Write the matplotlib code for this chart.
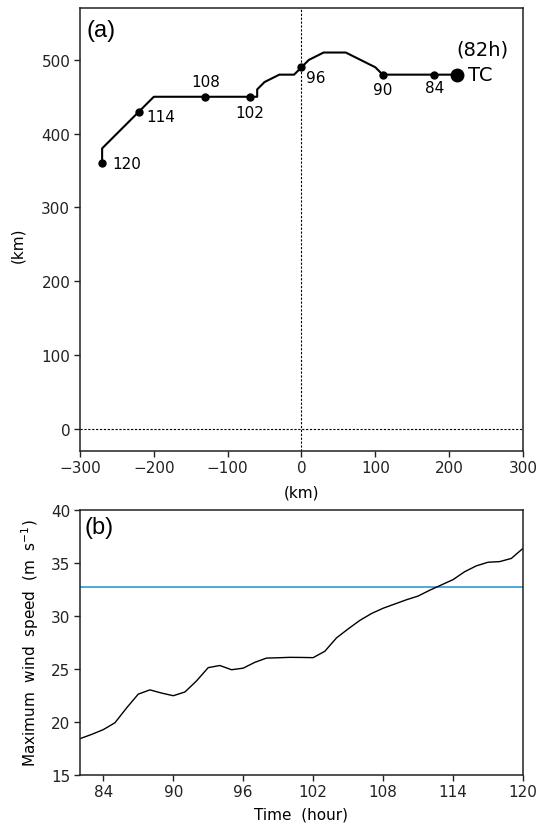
import matplotlib
matplotlib.use('Agg')
import matplotlib.pyplot as plt

plt.rcParams['font.family'] = ['DejaVu Sans']

# (a) TC-relative track, from 82h (TC) back to 120h
track_x = [210, 180, 110, 100, 60, 30, 10, 0, -10, -30, -50, -60, -60, -70, -90, -130, -200, -220, -270, -270]
track_y = [480, 480, 480, 490, 510, 510, 500, 490, 480, 480, 470, 460, 450, 450, 450, 450, 450, 430, 380, 360]

# 6-hourly marks
mark_hours = ['84', '90', '96', '102', '108', '114', '120']
mark_x = [180, 110, 0, -70, -130, -220, -270]
mark_y = [480, 480, 490, 450, 450, 430, 360]
mark_offsets = [(0, -13), (0, -15), (5, -10), (0, -16), (0, 15), (7, -5), (10, 0)]
mark_align = ['center', 'center', 'left', 'center', 'center', 'left', 'left']

tc_x, tc_y = 210, 480

# (b) maximum wind speed
hours = list(range(82, 121))
wind = [18.4, 18.8, 19.25, 19.9, 21.3, 22.6, 23.0, 22.7, 22.45, 22.8,
        23.85, 25.1, 25.3, 24.9, 25.05, 25.6, 26.0, 26.03, 26.07, 26.06,
        26.04, 26.64, 27.9, 28.75, 29.55, 30.2, 30.7, 31.1, 31.5, 31.85,
        32.4, 32.9, 33.4, 34.15, 34.7, 35.04, 35.1, 35.4, 36.35]
threshold = 32.7

fig = plt.figure(figsize=(5.4, 8.29), dpi=100)
ax1 = fig.add_axes([0.1481, 0.4551, 0.8204, 0.5337])
ax2 = fig.add_axes([0.1481, 0.0643, 0.8204, 0.3197])

for ax in (ax1, ax2):
    for s in ax.spines.values():
        s.set_linewidth(1.1)
        s.set_color('#222222')
    ax.tick_params(direction='out', length=4, width=1.0, labelsize=11,
                   top=False, right=False, colors='#222222', pad=3)

# panel (a)
ax1.axhline(0, color='black', lw=0.8, ls=(0, (2, 1.5)))
ax1.axvline(0, color='black', lw=0.8, ls=(0, (2, 1.5)))
ax1.plot(track_x, track_y, color='black', lw=1.5)
ax1.plot(mark_x, mark_y, 'o', color='black', ms=5)
ax1.plot([tc_x], [tc_y], 'o', color='black', ms=9)
for h, x, y, off, ha in zip(mark_hours, mark_x, mark_y, mark_offsets, mark_align):
    ax1.annotate(h, (x, y), xytext=off, textcoords='offset pixels',
                 ha=ha, va='center', fontsize=11)
ax1.annotate('TC', (tc_x, tc_y), xytext=(11, 0), textcoords='offset pixels',
             ha='left', va='center', fontsize=14)
ax1.annotate('(82h)', (tc_x, tc_y), xytext=(26, 26), textcoords='offset pixels',
             ha='center', va='center', fontsize=14)
ax1.set_xlim(-300, 300)
ax1.set_ylim(-30, 570)
ax1.set_xticks([-300, -200, -100, 0, 100, 200, 300])
ax1.set_yticks([0, 100, 200, 300, 400, 500])
ax1.text(0.015, 0.975, '(a)', transform=ax1.transAxes, fontsize=17,
         family='Liberation Sans', ha='left', va='top')
fig.text(18 / 540, 1 - 245 / 829, '(km)', rotation=90, ha='center', va='center', fontsize=11)
fig.text(301 / 540, 1 - 493 / 829, '(km)', ha='center', va='center', fontsize=11)

# panel (b)
ax2.axhline(threshold, color='#2f9ad6', lw=1.2)
ax2.plot(hours, wind, color='black', lw=1.0)
ax2.set_xlim(82, 120)
ax2.set_ylim(15, 40)
ax2.set_xticks([84, 90, 96, 102, 108, 114, 120])
ax2.set_yticks([15, 20, 25, 30, 35, 40])
ax2.text(0.01, 0.975, '(b)', transform=ax2.transAxes, fontsize=17,
         family='Liberation Sans', ha='left', va='top')
fig.text(30 / 540, 1 - 643 / 829, 'Maximum  wind  speed  (m  s$^{-1}$)', rotation=90,
         ha='center', va='center', fontsize=11)
fig.text(301 / 540, 1 - 815 / 829, 'Time  (hour)', ha='center', va='center', fontsize=11)

plt.savefig('out.png', dpi=100)
